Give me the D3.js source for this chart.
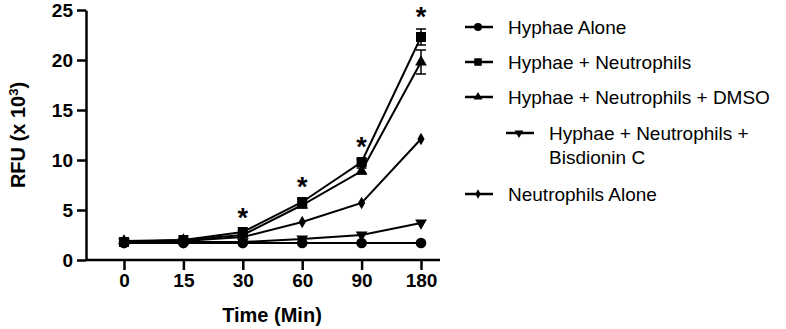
<!DOCTYPE html>
<html>
<head>
<meta charset="utf-8">
<script src="https://cdn.jsdelivr.net/npm/d3@7"></script>
<style>
  body { margin: 0; background: #fff; }
  svg { font-family: "Liberation Sans", Arial, sans-serif; }
  .axis path, .axis line { stroke: #000; stroke-width: 2.5px; }
  .axis text { font-size: 19px; font-weight: bold; fill: #000; }
</style>
</head>
<body>
<div id="chart"></div>
<script>
const times = ["0", "15", "30", "60", "90", "180"];
const yTicks = [0, 5, 10, 15, 20, 25];
const seriesNames = [
  "Hyphae Alone",
  "Hyphae + Neutrophils",
  "Hyphae + Neutrophils + DMSO",
  "Hyphae + Neutrophils + Bisdionin C",
  "Neutrophils Alone"
];
const hyphaeAlone = [1.7, 1.7, 1.7, 1.7, 1.7, 1.7];
const hyphaeNeut = [1.8, 2.0, 2.8, 5.8, 9.8, 22.3];
const hyphaeNeutDmso = [1.9, 2.0, 2.5, 5.5, 8.9, 19.8];
const hyphaeNeutBis = [1.8, 1.8, 1.8, 2.1, 2.5, 3.7];
const neutAlone = [1.9, 1.9, 2.3, 3.8, 5.7, 12.1];
const hyphaeNeutErr = [0.1, 0.1, 0.2, 0.3, 0.3, 0.8];
const hyphaeNeutDmsoErr = [0.1, 0.1, 0.2, 0.3, 0.3, 1.2];
const significance = ["", "", "*", "*", "*", "*"];

const W = 786, H = 329;
const margin = { top: 10, left: 86 };
const plotH = 250;

const svg = d3.select("#chart").append("svg")
  .attr("width", W)
  .attr("height", H);

const x = d3.scalePoint()
  .domain(times)
  .range([124, 421]);

const y = d3.scaleLinear()
  .domain([0, 25])
  .range([margin.top + plotH, margin.top]);

// axes
svg.append("g")
  .attr("class", "axis")
  .attr("transform", `translate(0,${y(0)})`)
  .call(d3.axisBottom(x).tickSize(10).tickPadding(4))
  .call(g => g.select(".domain").attr("d", `M${margin.left},0H440`));

svg.append("g")
  .attr("class", "axis")
  .attr("transform", `translate(${margin.left},0)`)
  .call(d3.axisLeft(y).tickValues(yTicks).tickSize(9).tickPadding(4).tickSizeOuter(0));

svg.append("text")
  .attr("x", 272)
  .attr("y", 322)
  .attr("text-anchor", "middle")
  .style("font-size", "20px")
  .style("font-weight", "bold")
  .text("Time (Min)");

const yTitle = svg.append("text")
  .attr("transform", `translate(25,${y(12.5)}) rotate(-90)`)
  .attr("text-anchor", "middle")
  .style("font-size", "20px")
  .style("font-weight", "bold");
yTitle.append("tspan").text("RFU (x 10");
yTitle.append("tspan").attr("dy", -7).style("font-size", "13px").text("3");
yTitle.append("tspan").attr("dy", 7).text(")");

// markers
const symbols = [
  d3.symbol().type(d3.symbolCircle).size(90),
  d3.symbol().type(d3.symbolSquare).size(100),
  d3.symbol().type(d3.symbolTriangle).size(60),
  d3.symbol().type(d3.symbolTriangle).size(60),
  d3.symbol().type(d3.symbolDiamond).size(45)
];
const rotations = [0, 0, 0, 180, 0];

const series = [
  { name: seriesNames[0], values: hyphaeAlone, err: null },
  { name: seriesNames[1], values: hyphaeNeut, err: hyphaeNeutErr },
  { name: seriesNames[2], values: hyphaeNeutDmso, err: hyphaeNeutDmsoErr },
  { name: seriesNames[3], values: hyphaeNeutBis, err: null },
  { name: seriesNames[4], values: neutAlone, err: null }
];

const line = d3.line()
  .x((d, i) => x(times[i]))
  .y(d => y(d));

series.forEach((s, k) => {
  const g = svg.append("g");
  if (s.err) {
    s.values.forEach((v, i) => {
      const cx = x(times[i]);
      const e = s.err[i];
      g.append("line")
        .attr("x1", cx).attr("x2", cx)
        .attr("y1", y(v - e)).attr("y2", y(v + e))
        .attr("stroke", "#000").attr("stroke-width", 1.5);
      [v - e, v + e].forEach(b => {
        g.append("line")
          .attr("x1", cx - 5).attr("x2", cx + 5)
          .attr("y1", y(b)).attr("y2", y(b))
          .attr("stroke", "#000").attr("stroke-width", 1.5);
      });
    });
  }
  g.append("path")
    .datum(s.values)
    .attr("fill", "none")
    .attr("stroke", "#000")
    .attr("stroke-width", 2)
    .attr("d", line);
  g.selectAll("path.pt")
    .data(s.values)
    .enter()
    .append("path")
    .attr("class", "pt")
    .attr("d", symbols[k])
    .attr("fill", "#000")
    .attr("transform", (d, i) => `translate(${x(times[i])},${y(d)}) rotate(${rotations[k]})`);
});

// significance stars
significance.forEach((t, i) => {
  if (!t) return;
  const top = d3.max(series, s => s.values[i] + (s.err ? s.err[i] : 0));
  svg.append("text")
    .attr("x", x(times[i]))
    .attr("y", y(top) - 3)
    .attr("text-anchor", "middle")
    .style("font-size", "27px")
    .style("font-weight", "bold")
    .text(t);
});

// legend
const legendRows = [
  { lines: [seriesNames[0]], y: 27, indent: 0 },
  { lines: [seriesNames[1]], y: 62, indent: 0 },
  { lines: [seriesNames[2]], y: 97, indent: 0 },
  { lines: ["Hyphae + Neutrophils +", "Bisdionin C"], y: 133, indent: 41 },
  { lines: [seriesNames[4]], y: 194, indent: 0 }
];

legendRows.forEach((r, k) => {
  const lx = 465 + r.indent;
  const g = svg.append("g");
  g.append("line")
    .attr("x1", lx).attr("x2", lx + 28)
    .attr("y1", r.y).attr("y2", r.y)
    .attr("stroke", "#000").attr("stroke-width", 2.5);
  g.append("path")
    .attr("d", symbols[k])
    .attr("fill", "#000")
    .attr("transform", `translate(${lx + 13},${r.y}) rotate(${rotations[k]}) scale(0.75)`);
  r.lines.forEach((t, j) => {
    g.append("text")
      .attr("x", lx + 43)
      .attr("y", r.y + j * 24 + 7)
      .style("font-size", "19px")
      .text(t);
  });
});
</script>
</body>
</html>
